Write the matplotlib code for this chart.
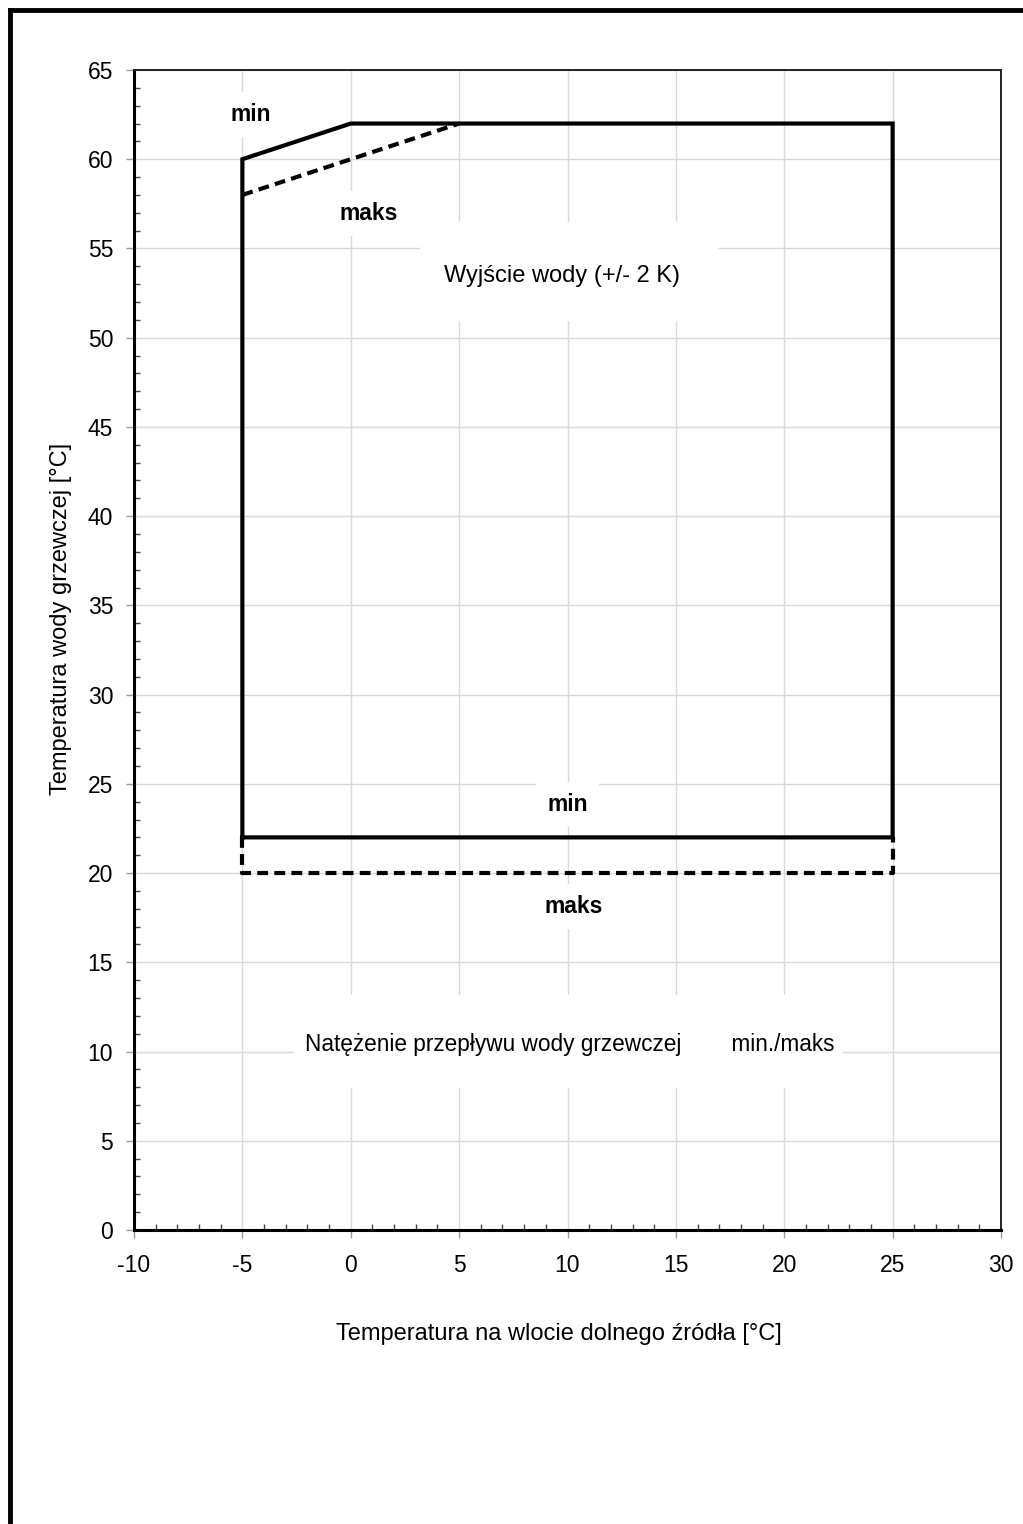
import matplotlib
matplotlib.use("Agg")
import matplotlib.pyplot as plt
from matplotlib.lines import Line2D
from matplotlib.patches import Rectangle
from matplotlib.ticker import MultipleLocator

plt.rcParams['font.family'] = ['Liberation Sans', 'DejaVu Sans']
plt.rcParams['axes.unicode_minus'] = False

# envelope, min flow (solid)
min_x = [-5, -5, 0, 25, 25, -5]
min_y = [22, 60, 62, 62, 22, 22]
# envelope, max flow (dashed) - upper and lower parts
maks_top_x = [-5, 5]
maks_top_y = [58, 62]
maks_bot_x = [-5, -5, 25, 25]
maks_bot_y = [22, 20, 20, 22]

xlim = (-10, 30)
ylim = (0, 65)

fig = plt.figure(figsize=(10.23, 15.24), dpi=100)
ax = fig.add_axes([134/1023, 1 - 1230/1524, (1001-134)/1023, (1230-70)/1524])

ax.plot(min_x, min_y, color='black', lw=3, solid_joinstyle='miter', zorder=4)
ax.plot(maks_top_x, maks_top_y, color='black', lw=3, dashes=(2.6, 1.5), zorder=4)
ax.plot(maks_bot_x, maks_bot_y, color='black', lw=3, dashes=(2.6, 1.5), zorder=3)

ax.set_xlim(*xlim)
ax.set_ylim(*ylim)
ax.xaxis.set_major_locator(MultipleLocator(5))
ax.xaxis.set_minor_locator(MultipleLocator(1))
ax.yaxis.set_major_locator(MultipleLocator(5))
ax.yaxis.set_minor_locator(MultipleLocator(1))
ax.grid(True, which='major', color='#d9d9d9', lw=1, zorder=0)
ax.set_axisbelow(True)
ax.tick_params(which='major', direction='out', length=5.5, width=1, color='#999999',
               labelsize=16.5)
ax.tick_params(axis='y', which='major', pad=9.5)
ax.tick_params(axis='x', which='major', pad=12)
ax.tick_params(which='minor', direction='in', length=4.5, width=1, color='#444444')

for s in ['left', 'bottom']:
    ax.spines[s].set_linewidth(2.2)
for s in ['top', 'right']:
    ax.spines[s].set_linewidth(1.4)
    ax.spines[s].set_color('#222222')

ax.set_xlabel('Temperatura na wlocie dolnego źródła [°C]', fontsize=17, va='baseline')
ax.xaxis.set_label_coords((558.5 - 134) / 867, (1230 - 1340) / 1160)
ax.set_ylabel('Temperatura wody grzewczej [°C]', fontsize=17, va='baseline')
ax.yaxis.set_label_coords((67 - 134) / 867, (1230 - 619) / 1160)

# white backgrounds of the two text boxes
ax.add_patch(Rectangle((3.2, 50.95), 13.75, 5.55, facecolor='white', edgecolor='none', zorder=1))
ax.add_patch(Rectangle((-2.6, 7.95), 25.3, 5.2, facecolor='white', edgecolor='none', zorder=1))

box = dict(facecolor='white', edgecolor='none', pad=8)
bold = dict(fontsize=16.5, fontweight='bold', ha='center', va='baseline')
ax.text(-4.62, 62.16, 'min', bbox=box, zorder=2, **bold)
ax.text(0.84, 56.6, 'maks', bbox=box, zorder=2, **bold)
ax.text(10.0, 23.5, 'min', bbox=box, zorder=2, **bold)
ax.text(10.3, 17.75, 'maks', bbox=box, zorder=2, **bold)
ax.text(9.75, 53.12, 'Wyjście wody (+/- 2 K)', fontsize=17, ha='center', va='baseline', zorder=2)
ax.text(10.1, 10.05, 'Natężenie przepływu wody grzewczej        min./maks', fontsize=16.3,
        ha='center', va='baseline', zorder=2)

# outer frame (left and top only)
fig.add_artist(Line2D([9.5/1023, 9.5/1023], [0, 1 - 9.5/1524], color='black', lw=3.5,
                      transform=fig.transFigure, solid_capstyle='projecting'))
fig.add_artist(Line2D([9.5/1023, 1], [1 - 9.5/1524, 1 - 9.5/1524], color='black', lw=3.5,
                      transform=fig.transFigure, solid_capstyle='projecting'))

fig.savefig('out.png', dpi=100)
